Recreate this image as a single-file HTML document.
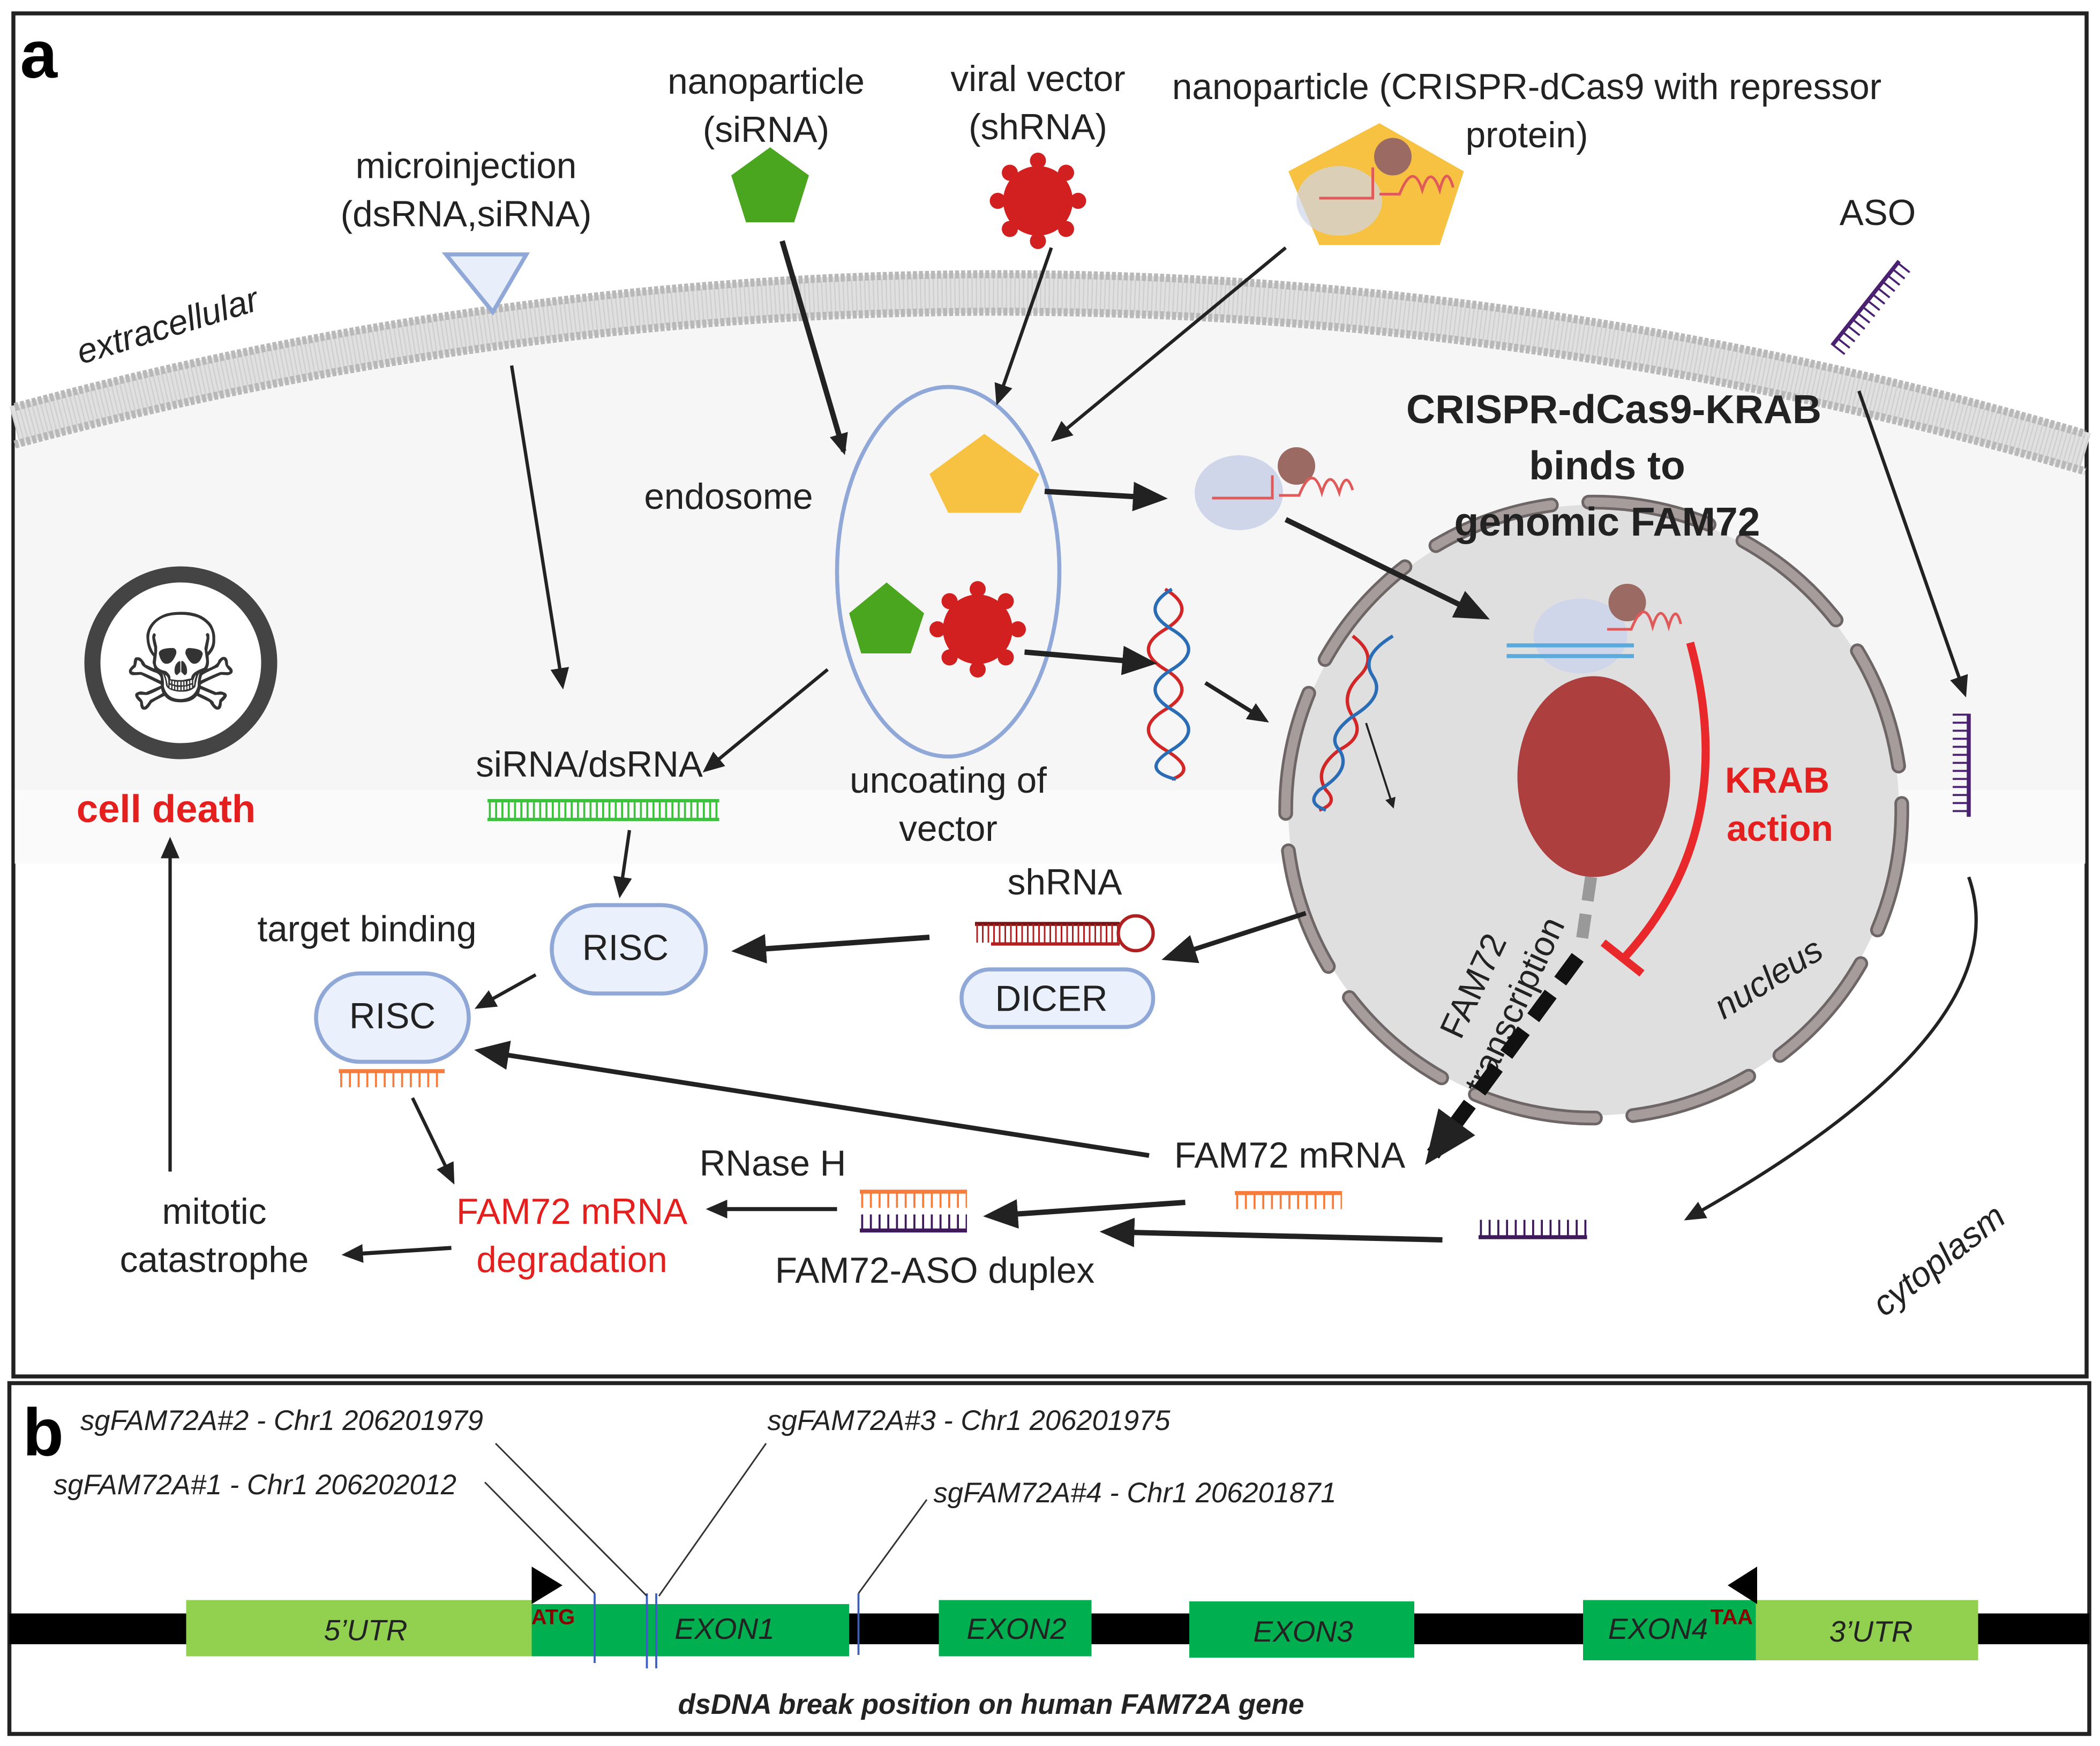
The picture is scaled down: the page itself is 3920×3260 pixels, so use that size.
<!DOCTYPE html>
<html><head><meta charset="utf-8"><style>
html,body{margin:0;padding:0;background:#fff}
svg{display:block}
text{font-family:"Liberation Sans",sans-serif;fill:#222}
</style></head><body>
<svg width="3920" height="3260" viewBox="0 0 1568 1304" xmlns="http://www.w3.org/2000/svg">
<defs>
<marker id="ah" markerWidth="8" markerHeight="8" refX="6" refY="4" orient="auto" markerUnits="userSpaceOnUse" viewBox="0 0 8 8"><path d="M0,0 L8,4 L0,8 Z" fill="#222"/></marker>
<marker id="ah2" markerWidth="26" markerHeight="22" refX="20" refY="11" orient="auto" markerUnits="userSpaceOnUse"><path d="M0,0 L26,11 L0,22 Z" fill="#222"/></marker>
<marker id="ah1" markerWidth="16" markerHeight="14" refX="13" refY="7" orient="auto" markerUnits="userSpaceOnUse"><path d="M0,0 L16,7 L0,14 Z" fill="#222"/></marker>
<marker id="ah3" markerWidth="40" markerHeight="34" refX="30" refY="17" orient="auto" markerUnits="userSpaceOnUse"><path d="M0,0 L40,17 L0,34 Z" fill="#222"/></marker>
</defs>
<rect x="10" y="10" width="1548" height="1018" fill="#fff" stroke="#222" stroke-width="3"/>
<path d="M11,330 Q780,120 1557,350 L1557,645 L11,645 Z" fill="#f6f6f6"/>
<rect x="11" y="590" width="1546" height="55" fill="#fafafa"/>
<path d="M11,318 Q780,110 1557,338" fill="none" stroke="#e0e0e0" stroke-width="30"/>
<path d="M11,318 Q780,110 1557,338" fill="none" stroke="#cfcfcf" stroke-width="24" stroke-dasharray="1 2.2"/>
<path d="M11,304 Q780,96 1557,324" fill="none" stroke="#b8b8b8" stroke-width="6" stroke-dasharray="3 1.5"/>
<path d="M11,332 Q780,124 1557,352" fill="none" stroke="#b8b8b8" stroke-width="6" stroke-dasharray="3 1.5"/>
<text x="15" y="58" font-size="50" font-weight="bold" style="fill:#000">a</text>
<g font-size="27" text-anchor="middle">
<text x="572" y="70">nanoparticle</text><text x="572" y="106">(siRNA)</text>
<text x="775" y="68">viral vector</text><text x="775" y="104">(shRNA)</text>
<text x="1140" y="74">nanoparticle (CRISPR-dCas9 with repressor</text><text x="1140" y="110">protein)</text>
<text x="348" y="133">microinjection</text><text x="348" y="169">(dsRNA,siRNA)</text>
<text x="1402" y="168">ASO</text>
<text x="544" y="380">endosome</text>
<text x="440" y="580">siRNA/dsRNA</text>
<text x="708" y="592">uncoating of</text><text x="708" y="628">vector</text>
<text x="1050" y="630">vector</text><text x="1050" y="666">transcription</text>
<text x="795" y="668">shRNA</text>
<text x="274" y="703">target binding</text>
<text x="963" y="872">FAM72 mRNA</text>
<text x="577" y="878">RNase H</text>
<text x="160" y="914">mitotic</text><text x="160" y="950">catastrophe</text>
<text x="427" y="914" style="fill:#e51e1e">FAM72 mRNA</text><text x="427" y="950" style="fill:#e51e1e">degradation</text>
<text x="698" y="958">FAM72-ASO duplex</text>
</g>
<text x="125" y="252" font-size="26" font-style="italic" text-anchor="middle" transform="rotate(-17 125 243)">extracellular</text>
<text x="124" y="614" font-size="29" font-weight="bold" text-anchor="middle" style="fill:#e51e1e">cell death</text>
<polygon points="333,190 393,190 368,233" fill="#e8eefa" stroke="#8fa8d8" stroke-width="3"/>
<polygon points="575,110 604,131 593,166 557,166 546,131" fill="#4aa61f"/>
<g fill="#d21f1f">
<circle cx="775" cy="150" r="26"/>
<g transform="translate(775,150)"><circle cx="0" cy="-30" r="6"/><circle cx="21" cy="-21" r="6"/><circle cx="30" cy="0" r="6"/><circle cx="21" cy="21" r="6"/><circle cx="0" cy="30" r="6"/><circle cx="-21" cy="21" r="6"/><circle cx="-30" cy="0" r="6"/><circle cx="-21" cy="-21" r="6"/></g>
<circle cx="730" cy="470" r="26"/>
<g transform="translate(730,470)"><circle cx="0" cy="-30" r="6"/><circle cx="21" cy="-21" r="6"/><circle cx="30" cy="0" r="6"/><circle cx="21" cy="21" r="6"/><circle cx="0" cy="30" r="6"/><circle cx="-21" cy="21" r="6"/><circle cx="-30" cy="0" r="6"/><circle cx="-21" cy="-21" r="6"/></g>
</g>
<polygon points="1030,92 1093,128 1075,183 985,183 962,128" fill="#f7c242"/>
<ellipse cx="1000" cy="150" rx="32" ry="26" fill="#cfd6ea" opacity="0.7"/>
<circle cx="1040" cy="117" r="14" fill="#9b6a62"/>
<path d="M985,148 L1025,148 L1025,125 M1030,145 L1045,145 Q1055,120 1062,142 Q1068,122 1075,142 Q1080,122 1085,140" fill="none" stroke="#e05a5a" stroke-width="2"/>
<ellipse cx="708" cy="427" rx="83" ry="138" fill="none" stroke="#8fa8d8" stroke-width="3"/>
<polygon points="735,324 776,354 762,383 708,383 694,354" fill="#f7c242"/>
<polygon points="662,435 690,458 680,488 643,488 634,458" fill="#4aa61f"/>
<ellipse cx="925" cy="368" rx="33" ry="28" fill="#cfd6ea"/>
<circle cx="968" cy="348" r="14" fill="#9b6a62"/>
<path d="M905,372 L950,372 L950,355 M955,370 L970,370 Q980,345 987,368 Q993,348 1000,368 Q1005,350 1010,366" fill="none" stroke="#e05a5a" stroke-width="2"/>
<path d="M870,440 Q895,455 870,470 Q845,485 870,500 Q895,515 870,530 Q845,545 870,560 Q895,575 875,582" fill="none" stroke="#d32626" stroke-width="2.5"/>
<path d="M875,440 Q850,455 875,470 Q900,485 875,500 Q850,515 875,530 Q900,545 875,560 Q850,575 878,582" fill="none" stroke="#2a6db5" stroke-width="2.5"/>
<circle cx="135" cy="495" r="66" fill="#fff" stroke="#444" stroke-width="12"/>
<text x="135" y="530" font-size="100" text-anchor="middle" style="fill:#333;font-family:'DejaVu Sans',sans-serif">☠</text>
<circle cx="1190" cy="605" r="228" fill="#e0dfe0"/>
<circle cx="1190" cy="605" r="230" fill="none" stroke="#6e6666" stroke-width="11" stroke-dasharray="92 28" stroke-linecap="round"/>
<circle cx="1190" cy="605" r="230" fill="none" stroke="#a69c9c" stroke-width="7" stroke-dasharray="92 28" stroke-linecap="round"/>
<text x="1205" y="316" font-size="30" font-weight="bold" text-anchor="middle">CRISPR-dCas9-KRAB</text>
<text x="1200" y="358" font-size="30" font-weight="bold" text-anchor="middle">binds to</text>
<text x="1200" y="400" font-size="30" font-weight="bold" text-anchor="middle">genomic FAM72</text>
<ellipse cx="1190" cy="580" rx="57" ry="75" fill="#ad3f3f"/>
<ellipse cx="1180" cy="475" rx="35" ry="28" fill="#cfd6ea"/>
<path d="M1125,482 L1220,482 M1125,490 L1220,490" stroke="#5aaadd" stroke-width="3"/>
<circle cx="1215" cy="450" r="14" fill="#9b6a62"/>
<path d="M1200,470 L1218,470 Q1228,445 1234,468 Q1240,448 1246,468 Q1251,450 1255,466" fill="none" stroke="#e05a5a" stroke-width="2"/>
<path d="M1010,475 Q1030,490 1015,505 Q1000,520 1010,535 Q1020,550 1000,560 Q980,575 990,590 Q1000,600 985,605" fill="none" stroke="#d32626" stroke-width="2.5"/>
<path d="M1040,475 Q1015,490 1025,505 Q1035,520 1010,535 Q990,550 1000,560 Q1010,575 985,590 Q975,600 990,605" fill="none" stroke="#2a6db5" stroke-width="2.5"/>
<text x="1327" y="592" font-size="27" font-weight="bold" text-anchor="middle" style="fill:#e51e1e">KRAB</text>
<text x="1329" y="628" font-size="27" font-weight="bold" text-anchor="middle" style="fill:#e51e1e">action</text>
<path d="M1262,480 Q1300,620 1213,715" fill="none" stroke="#e8282a" stroke-width="6"/>
<line x1="1197" y1="704" x2="1226" y2="727" stroke="#e8282a" stroke-width="6"/>
<text font-size="26" text-anchor="middle" transform="translate(1108,740) rotate(-65)"><tspan x="0" y="0">FAM72</tspan><tspan x="0" y="34">transcription</tspan></text>
<text font-size="26" font-style="italic" text-anchor="middle" transform="translate(1325,738) rotate(-32)">nucleus</text>
<text font-size="26" font-style="italic" text-anchor="middle" transform="translate(1453,948) rotate(-38)">cytoplasm</text>
<line x1="1188" y1="655" x2="1180" y2="710" stroke="#999" stroke-width="9" stroke-dasharray="18 10"/>
<line x1="1178" y1="715" x2="1070" y2="862" stroke="#111" stroke-width="11" stroke-dasharray="22 12" marker-end="url(#ah3)"/>
<rect x="412" y="676" width="115" height="66" rx="33" fill="#ebf1fc" stroke="#8fa8d8" stroke-width="3"/>
<text x="467" y="717" font-size="27" text-anchor="middle">RISC</text>
<rect x="236" y="727" width="114" height="66" rx="33" fill="#ebf1fc" stroke="#8fa8d8" stroke-width="3"/>
<text x="293" y="768" font-size="27" text-anchor="middle">RISC</text>
<rect x="718" y="724" width="143" height="43" rx="21" fill="#ebf1fc" stroke="#8fa8d8" stroke-width="3"/>
<text x="785" y="755" font-size="27" text-anchor="middle">DICER</text>
<g fill="none">
<line x1="364" y1="598" x2="537" y2="598" stroke="#3cc23c" stroke-width="2.5"/><line x1="364" y1="612" x2="537" y2="612" stroke="#3cc23c" stroke-width="2.5"/>
<line x1="365" y1="605" x2="537" y2="605" stroke="#3cc23c" stroke-width="14" stroke-dasharray="1.5 3.2"/>
<line x1="253" y1="800" x2="332" y2="800" stroke="#f57c3c" stroke-width="3"/><line x1="254" y1="806" x2="332" y2="806" stroke="#f57c3c" stroke-width="12" stroke-dasharray="1.5 5"/>
<line x1="728" y1="690" x2="836" y2="690" stroke="#7a1414" stroke-width="3"/><line x1="740" y1="705" x2="836" y2="705" stroke="#b02020" stroke-width="2.5"/>
<line x1="729" y1="697" x2="835" y2="697" stroke="#b02020" stroke-width="14" stroke-dasharray="1.2 3"/>
<circle cx="848" cy="697" r="13" stroke="#b02020" stroke-width="2.5"/>
<line x1="922" y1="891" x2="1002" y2="891" stroke="#f57c3c" stroke-width="3"/><line x1="923" y1="897" x2="1002" y2="897" stroke="#f57c3c" stroke-width="12" stroke-dasharray="1.5 5"/>
<line x1="642" y1="890" x2="722" y2="890" stroke="#f57c3c" stroke-width="3"/><line x1="643" y1="896" x2="722" y2="896" stroke="#f57c3c" stroke-width="12" stroke-dasharray="1.5 5"/>
<line x1="642" y1="919" x2="722" y2="919" stroke="#3e1a5a" stroke-width="3"/><line x1="643" y1="913" x2="722" y2="913" stroke="#3e1a5a" stroke-width="12" stroke-dasharray="1.5 5"/>
<line x1="1104" y1="924" x2="1185" y2="924" stroke="#3e1a5a" stroke-width="3"/><line x1="1105" y1="917" x2="1185" y2="917" stroke="#3e1a5a" stroke-width="12" stroke-dasharray="1.5 5"/>
<line x1="1470" y1="533" x2="1470" y2="610" stroke="#4a2070" stroke-width="3"/><line x1="1464" y1="533" x2="1464" y2="610" stroke="#4a2070" stroke-width="12" stroke-dasharray="1.5 4.5"/>
<line x1="1368" y1="258" x2="1418" y2="195" stroke="#4a2070" stroke-width="3"/><line x1="1373" y1="262" x2="1423" y2="199" stroke="#4a2070" stroke-width="10" stroke-dasharray="1.5 4.5"/>
</g>
<g stroke="#222" fill="none">
<line x1="382" y1="273" x2="420" y2="512" stroke-width="2.5" marker-end="url(#ah1)"/>
<line x1="584" y1="180" x2="630" y2="337" stroke-width="4" marker-end="url(#ah1)"/>
<line x1="785" y1="185" x2="745" y2="300" stroke-width="2.5" marker-end="url(#ah1)"/>
<line x1="960" y1="185" x2="787" y2="328" stroke-width="2.5" marker-end="url(#ah1)"/>
<line x1="780" y1="367" x2="866" y2="372" stroke-width="4" marker-end="url(#ah2)"/>
<line x1="960" y1="388" x2="1107" y2="460" stroke-width="4" marker-end="url(#ah2)"/>
<line x1="765" y1="487" x2="858" y2="495" stroke-width="4" marker-end="url(#ah2)"/>
<line x1="900" y1="510" x2="945" y2="538" stroke-width="3" marker-end="url(#ah1)"/>
<line x1="618" y1="500" x2="527" y2="575" stroke-width="2.5" marker-end="url(#ah1)"/>
<line x1="470" y1="620" x2="463" y2="668" stroke-width="2.5" marker-end="url(#ah1)"/>
<line x1="694" y1="700" x2="552" y2="710" stroke-width="4" marker-end="url(#ah2)"/>
<line x1="975" y1="682" x2="873" y2="715" stroke-width="3.5" marker-end="url(#ah2)"/>
<line x1="400" y1="728" x2="357" y2="752" stroke-width="2.5" marker-end="url(#ah1)"/>
<line x1="858" y1="863" x2="360" y2="785" stroke-width="3.5" marker-end="url(#ah2)"/>
<line x1="308" y1="820" x2="338" y2="882" stroke-width="2.5" marker-end="url(#ah1)"/>
<line x1="885" y1="898" x2="740" y2="908" stroke-width="4" marker-end="url(#ah2)"/>
<line x1="1077" y1="926" x2="827" y2="920" stroke-width="4" marker-end="url(#ah2)"/>
<line x1="625" y1="903" x2="530" y2="903" stroke-width="3" marker-end="url(#ah1)"/>
<line x1="337" y1="932" x2="258" y2="937" stroke-width="3" marker-end="url(#ah1)"/>
<line x1="127" y1="875" x2="127" y2="628" stroke-width="2.5" marker-end="url(#ah1)"/>
<line x1="1388" y1="292" x2="1467" y2="518" stroke-width="2.5" marker-end="url(#ah1)"/>
<path d="M1470,655 Q1510,770 1260,910" stroke-width="2.5" marker-end="url(#ah1)"/>
<line x1="1020" y1="540" x2="1040" y2="602" stroke-width="1.5" marker-end="url(#ah)"/>
</g>
<rect x="7" y="1033" width="1553" height="262" fill="#fff" stroke="#222" stroke-width="3"/>
<text x="17" y="1087" font-size="50" font-weight="bold" style="fill:#000">b</text>
<rect x="7" y="1205" width="1553" height="23" fill="#000"/>
<rect x="139" y="1195" width="258" height="42" fill="#92d050"/>
<rect x="397" y="1198" width="237" height="39" fill="#00b050"/>
<rect x="701" y="1195" width="114" height="42" fill="#00b050"/>
<rect x="888" y="1196" width="168" height="42" fill="#00b050"/>
<rect x="1182" y="1195" width="129" height="45" fill="#00b050"/>
<rect x="1311" y="1195" width="166" height="45" fill="#92d050"/>
<g font-size="22" font-style="italic" text-anchor="middle">
<text x="273" y="1225">5’UTR</text><text x="541" y="1224">EXON1</text><text x="759" y="1224">EXON2</text><text x="973" y="1226">EXON3</text><text x="1238" y="1224">EXON4</text><text x="1397" y="1226">3’UTR</text>
</g>
<text x="413" y="1213" font-size="16" font-weight="bold" text-anchor="middle" style="fill:#8b0000">ATG</text>
<text x="1293" y="1213" font-size="16" font-weight="bold" text-anchor="middle" style="fill:#8b0000">TAA</text>
<polygon points="397,1170 420,1184 397,1198" fill="#000"/>
<polygon points="1312,1170 1290,1184 1312,1198" fill="#000"/>
<g stroke="#3a5fc0" stroke-width="1.5">
<line x1="444" y1="1190" x2="444" y2="1242"/><line x1="483" y1="1190" x2="483" y2="1246"/><line x1="490" y1="1190" x2="490" y2="1246"/><line x1="641" y1="1190" x2="641" y2="1236"/>
</g>
<g stroke="#333" stroke-width="1.2">
<line x1="362" y1="1107" x2="444" y2="1190"/><line x1="370" y1="1078" x2="483" y2="1192"/><line x1="572" y1="1078" x2="492" y2="1192"/><line x1="692" y1="1120" x2="641" y2="1190"/>
</g>
<g font-size="21" font-style="italic">
<text x="60" y="1068">sgFAM72A#2 - Chr1 206201979</text>
<text x="573" y="1068">sgFAM72A#3 - Chr1 206201975</text>
<text x="40" y="1116">sgFAM72A#1 - Chr1 206202012</text>
<text x="697" y="1122">sgFAM72A#4 - Chr1 206201871</text>
</g>
<text x="740" y="1280" font-size="21" font-style="italic" font-weight="bold" text-anchor="middle">dsDNA break position on human FAM72A gene</text>
</svg>
</body></html>
